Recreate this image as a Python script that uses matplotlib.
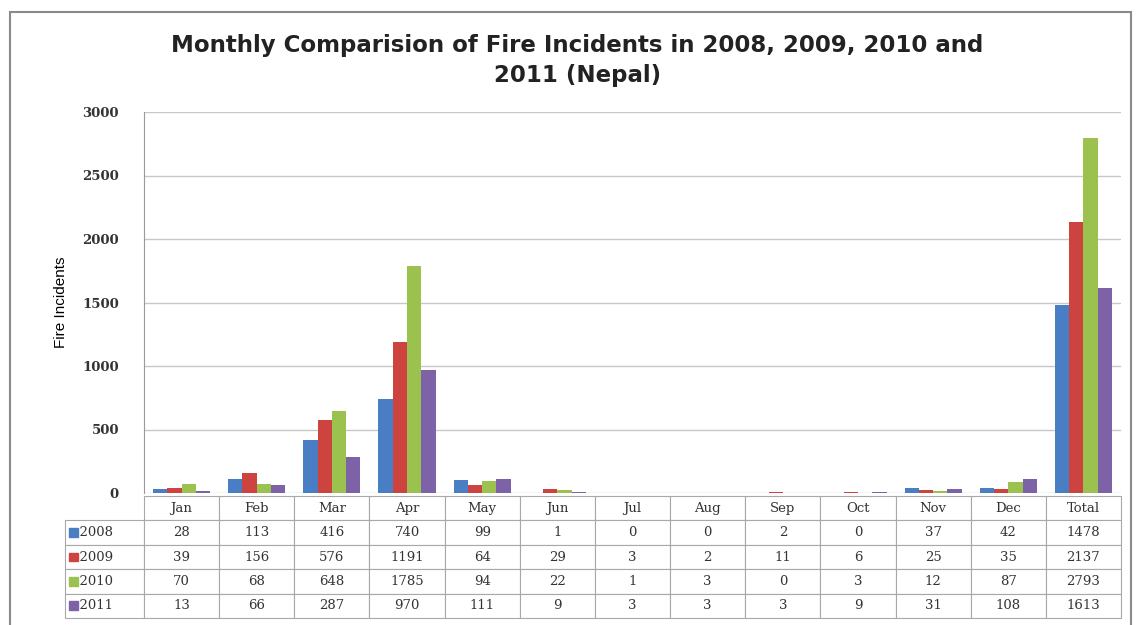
import matplotlib
matplotlib.use("Agg")
import matplotlib.pyplot as plt
import numpy as np
from matplotlib.patches import Rectangle

meses = ["Jan", "Feb", "Mar", "Apr", "May", "Jun", "Jul", "Aug", "Sep", "Oct", "Nov", "Dec", "Total"]
anios = ["2008", "2009", "2010", "2011"]
v2008 = [28, 113, 416, 740, 99, 1, 0, 0, 2, 0, 37, 42, 1478]
v2009 = [39, 156, 576, 1191, 64, 29, 3, 2, 11, 6, 25, 35, 2137]
v2010 = [70, 68, 648, 1785, 94, 22, 1, 3, 0, 3, 12, 87, 2793]
v2011 = [13, 66, 287, 970, 111, 9, 3, 3, 3, 9, 31, 108, 1613]
series = [v2008, v2009, v2010, v2011]
colores = ["#4a7ec4", "#cc4340", "#9bc24f", "#7e62a8"]

fig = plt.figure(figsize=(11.37, 6.25), dpi=100)
ax = fig.add_axes([0.1266, 0.2112, 0.8594, 0.6096])

# marco exterior del grafico
fig.patches.append(Rectangle((10 / 1137, -0.05), 1121 / 1137, 1 - 12 / 625 + 0.05,
                             transform=fig.transFigure, fill=False,
                             edgecolor="#8a8a8a", linewidth=1.5))

x = np.arange(len(meses))
w = 0.19
for i, (vals, c) in enumerate(zip(series, colores)):
    ax.bar(x + (i - 1.5) * w, vals, w, color=c, zorder=3)

ax.set_xlim(-0.5, len(meses) - 0.5)
ax.set_ylim(0, 3000)
ax.set_yticks(range(0, 3001, 500))
ax.yaxis.grid(True, color="#c8c8c8", linewidth=1)
ax.set_axisbelow(True)
ax.set_xticks([])
for s in ["top", "right", "bottom"]:
    ax.spines[s].set_visible(False)
ax.spines["left"].set_color("#9a9a9a")
ax.tick_params(axis="y", length=0, pad=18, labelsize=9.5, labelcolor="#333333")
for t in ax.get_yticklabels():
    t.set_family("DejaVu Serif")
    t.set_fontweight("bold")
ax.set_ylabel("Fire Incidents", fontsize=11, family="Liberation Sans", labelpad=10)

fig.text(0.508, 0.903, "Monthly Comparision of Fire Incidents in 2008, 2009, 2010 and\n2011 (Nepal)",
         ha="center", va="center", fontsize=16.5, fontweight="bold", family="DejaVu Sans",
         color="#222222", linespacing=1.4)

# tabla de datos
filas = [[""] + meses]
for a, vals in zip(anios, series):
    filas.append(["  " + a] + [str(v) for v in vals])
anchos = [0.0809] + [1 / 13] * 13
tabla = ax.table(cellText=filas, colWidths=anchos, cellLoc="center",
                 bbox=[-0.0809, -0.328, 1.0809, 0.320])
tabla.auto_set_font_size(False)
tabla.set_fontsize(9.5)
for (r, c), celda in tabla.get_celld().items():
    celda.set_edgecolor("#a8a8a8")
    celda.set_linewidth(0.8)
    celda.get_text().set_family("DejaVu Serif")
    celda.get_text().set_color("#333333")
    if r == 0 and c == 0:
        celda.visible_edges = ""
    if c == 0 and r > 0:
        celda.get_text().set_ha("left")
        celda.PAD = 0.08

fig.canvas.draw()
for r, c in zip(range(1, 5), colores):
    celda = tabla[r, 0]
    bb = celda.get_window_extent(fig.canvas.get_renderer())
    inv = fig.transFigure.inverted()
    (x0, y0), (x1, y1) = inv.transform([[bb.x0, bb.y0], [bb.x1, bb.y1]])
    ym = (y0 + y1) / 2
    fig.patches.append(Rectangle((x0 + 0.004, ym - 0.007), 0.0075, 0.014,
                                 transform=fig.transFigure, color=c))

fig.savefig("out.png", dpi=100)
